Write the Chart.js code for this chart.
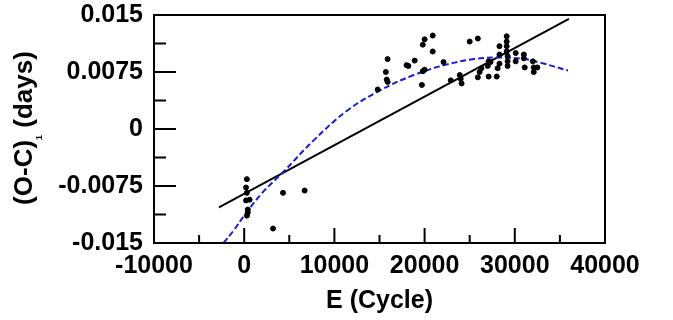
<!DOCTYPE html>
<html>
<head>
<meta charset="utf-8">
<script src="https://cdn.jsdelivr.net/npm/chart.js@4.4.1/dist/chart.umd.min.js"></script>
<style>
  html, body { margin: 0; padding: 0; background: #fff; }
  #wrap { width: 673px; height: 320px; }
</style>
</head>
<body>
<div id="wrap"><canvas id="ocChart" width="673" height="320"></canvas></div>
<script>
// Observed (O-C)1 residuals
const obsCycle = [300, 200, 300, 200, 600, 400, 400, 300, 3200, 4300, 6700,
    14800, 15700, 15800, 15900, 15900, 18000, 18200, 18900, 19700, 19800, 20000, 19800, 20000,
    20900, 20900, 22100, 22900, 23900, 24000, 24100, 25000, 25900, 25900, 26100, 26300,
    27000, 27100, 27300, 27100, 28000, 28100, 28300, 28300, 28300,
    29100, 29100, 29100, 29100, 29200, 29200, 29200, 30100, 30100, 31000, 31000, 31100,
    32000, 32100, 32100, 32500];
const obsOC = [-0.0066, -0.0077, -0.0084, -0.0094, -0.0093, -0.0106, -0.0110, -0.0114, -0.0131, -0.0084, -0.0081,
    0.0052, 0.0075, 0.0065, 0.0062, 0.0092, 0.0084, 0.0083, 0.0090, 0.0058, 0.0111, 0.0118, 0.0076, 0.0078,
    0.0123, 0.0102, 0.0088, 0.0064, 0.0071, 0.0066, 0.0060, 0.0115, 0.0119, 0.0068, 0.0075, 0.0080,
    0.0083, 0.0089, 0.0088, 0.0069, 0.0069, 0.0080, 0.0086, 0.0098, 0.0109,
    0.0122, 0.0115, 0.0109, 0.0102, 0.0096, 0.0089, 0.0083, 0.0100, 0.0089, 0.0098, 0.0093, 0.0081,
    0.0089, 0.0081, 0.0075, 0.0081];

// Linear fit (black solid), end points
const linCycle = [-2800, 36000];
const linOC = [-0.0103, 0.0145];

// Quadratic fit (blue dashed)
const quadCycle = [-2300, -1200, 0, 2000, 4300, 7700, 11400, 15100, 18800, 22500, 25500, 28000, 31000, 32900, 35900];
const quadOC = [-0.0150, -0.0134, -0.0114, -0.0084, -0.0057, -0.0015, 0.0024, 0.0051, 0.0071, 0.0085, 0.0092, 0.0094, 0.0092, 0.0087, 0.0077];

// Axes
const xTickValues = [-10000, 0, 10000, 20000, 30000, 40000];
const xTickLabels = ['-10000', '0', '10000', '20000', '30000', '40000'];
const yTickValues = [-0.015, -0.0075, 0, 0.0075, 0.015];
const yTickLabels = ['-0.015', '-0.0075', '0', '0.0075', '0.015'];
const xTitle = 'E (Cycle)';
const yTitleMain = '(O-C)';
const yTitleSub = '1';
const yTitleTail = ' (days)';

const FONT = "'Liberation Sans', Arial, sans-serif";

function toXY(xs, ys) {
    return xs.map((x, i) => ({ x: x, y: ys[i] }));
}

// Box around plot plus inward tick marks
const framePlugin = {
    id: 'frame',
    afterDatasetsDraw(chart) {
        const ctx = chart.ctx;
        const a = chart.chartArea;
        const xs = chart.scales.x;
        const ys = chart.scales.y;
        ctx.save();
        ctx.strokeStyle = '#000';
        ctx.lineWidth = 2;
        ctx.strokeRect(a.left, a.top, a.right - a.left, a.bottom - a.top);
        ctx.beginPath();
        for (let i = 0; i < xTickValues.length; i++) {
            const px = xs.getPixelForValue(xTickValues[i]);
            ctx.moveTo(px, a.bottom); ctx.lineTo(px, a.bottom - 15);
            if (i < xTickValues.length - 1) {
                const mx = xs.getPixelForValue((xTickValues[i] + xTickValues[i + 1]) / 2);
                ctx.moveTo(mx, a.bottom); ctx.lineTo(mx, a.bottom - 8);
            }
        }
        for (let i = 0; i < yTickValues.length; i++) {
            const py = ys.getPixelForValue(yTickValues[i]);
            ctx.moveTo(a.left, py); ctx.lineTo(a.left + 22, py);
            if (i < yTickValues.length - 1) {
                const my = ys.getPixelForValue((yTickValues[i] + yTickValues[i + 1]) / 2);
                ctx.moveTo(a.left, my); ctx.lineTo(a.left + 12, my);
            }
        }
        ctx.stroke();
        ctx.restore();
    },
    afterDraw(chart) {
        // y title with subscript
        const ctx = chart.ctx;
        ctx.save();
        ctx.fillStyle = '#000';
        ctx.textBaseline = 'alphabetic';
        ctx.textAlign = 'left';
        const big = 'bold 26px ' + FONT;
        const small = 'bold 9px ' + FONT;
        ctx.font = big;
        const w1 = ctx.measureText(yTitleMain).width;
        const w3 = ctx.measureText(yTitleTail).width;
        ctx.font = small;
        const w2 = ctx.measureText(yTitleSub).width;
        const total = w1 + w2 + w3;
        ctx.translate(32, 128);
        ctx.rotate(-Math.PI / 2);
        let x = -total / 2;
        ctx.font = big;
        ctx.fillText(yTitleMain, x, 0);
        x += w1;
        ctx.font = small;
        ctx.fillText(yTitleSub, x, 10);
        x += w2;
        ctx.font = big;
        ctx.fillText(yTitleTail, x, 0);
        ctx.restore();
    }
};

new Chart(document.getElementById('ocChart'), {
    type: 'scatter',
    data: {
        datasets: [
            {
                label: 'Observed',
                data: toXY(obsCycle, obsOC),
                backgroundColor: '#000',
                borderColor: '#000',
                pointRadius: 2.5,
                order: 0
            },
            {
                label: 'Linear',
                data: toXY(linCycle, linOC),
                showLine: true,
                borderColor: '#000',
                borderWidth: 2,
                pointRadius: 0,
                order: 2
            },
            {
                label: 'Quadratic',
                data: toXY(quadCycle, quadOC),
                showLine: true,
                borderColor: '#1c1cc4',
                borderWidth: 2,
                borderDash: [6, 3],
                tension: 0.4,
                pointRadius: 0,
                order: 1
            }
        ]
    },
    options: {
        responsive: false,
        animation: false,
        events: [],
        layout: { padding: { left: 0, right: 68, top: 15, bottom: 0 } },
        plugins: {
            legend: { display: false },
            tooltip: { enabled: false }
        },
        scales: {
            x: {
                type: 'linear',
                min: -10000,
                max: 40000,
                afterBuildTicks: s => { s.ticks = xTickValues.map(v => ({ value: v })); },
                afterFit: s => { s.height = 77; s.paddingLeft = 0; s.paddingRight = 0; },
                grid: { display: false, drawTicks: false },
                border: { display: false },
                ticks: {
                    autoSkip: false,
                    maxRotation: 0,
                    padding: 8,
                    color: '#000',
                    font: { family: FONT, size: 25, weight: 'bold' },
                    callback: (v, i) => xTickLabels[i]
                },
                title: {
                    display: true,
                    text: xTitle,
                    color: '#000',
                    font: { family: FONT, size: 25, weight: 'bold' },
                    padding: { top: 0, bottom: 4 }
                }
            },
            y: {
                type: 'linear',
                min: -0.015,
                max: 0.015,
                afterBuildTicks: s => { s.ticks = yTickValues.map(v => ({ value: v })); },
                afterFit: s => { s.width = 154; s.paddingTop = 0; s.paddingBottom = 0; },
                grid: { display: false, drawTicks: false },
                border: { display: false },
                ticks: {
                    autoSkip: false,
                    padding: 11,
                    color: '#000',
                    font: { family: FONT, size: 25, weight: 'bold' },
                    callback: (v, i) => yTickLabels[i]
                }
            }
        }
    },
    plugins: [framePlugin]
});
</script>
</body>
</html>
